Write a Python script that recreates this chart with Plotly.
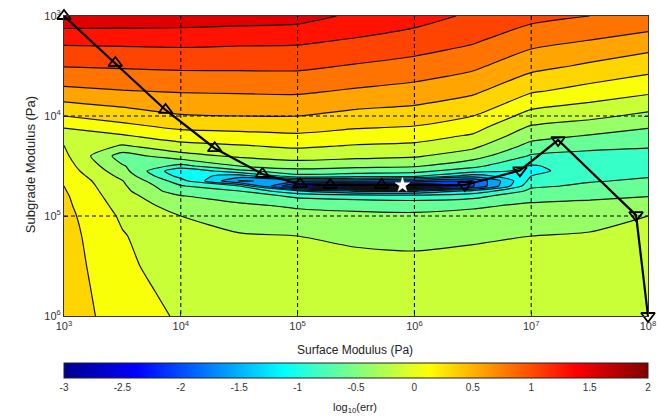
import numpy as np
import plotly.graph_objects as go

# ---- data ----
log_es = [3.0, 3.5, 4.0, 4.5, 5.0, 5.5, 6.0, 6.5, 7.0, 7.5, 8.0]          # log10 surface modulus (Pa)
log_eb = [3.0, 3.25, 3.5, 3.75, 4.0, 4.1, 4.2, 4.3, 4.4, 4.5, 4.55, 4.6,
          4.65, 4.7, 4.75, 4.8, 4.9, 5.0, 5.2, 5.5, 5.75, 6.0]              # log10 subgrade modulus (Pa)

# log10(err), one list per surface-modulus column (values down the subgrade axis)
err_es3_0 = [1.70, 1.30, 1.01, 0.69, 0.25, 0.04, -0.15, 0.01, 0.06, 0.12, 0.15, 0.19, 0.22, 0.25, 0.27, 0.29, 0.31, 0.33, 0.35, 0.37, 0.38, 0.39]
err_es3_5 = [1.68, 1.31, 1.03, 0.74, 0.37, 0.19, -0.03, -0.28, -0.62, -0.48, -0.40, -0.32, -0.24, -0.21, -0.18, -0.15, -0.09, -0.04, 0.02, 0.06, 0.10, 0.13]
err_es4_0 = [1.66, 1.32, 1.05, 0.77, 0.48, 0.32, 0.13, -0.09, -0.34, -0.83, -1.23, -1.10, -0.89, -0.73, -0.65, -0.49, -0.36, -0.25, -0.20, -0.14, -0.08, -0.03]
err_es4_5 = [1.63, 1.30, 1.05, 0.78, 0.50, 0.34, 0.17, -0.02, -0.21, -0.50, -0.83, -1.38, -1.77, -1.00, -0.75, -0.61, -0.45, -0.36, -0.23, -0.17, -0.12, -0.07]
err_es5_0 = [1.60, 1.29, 1.05, 0.79, 0.50, 0.36, 0.21, 0.04, -0.14, -0.39, -0.58, -0.83, -1.69, -2.37, -1.23, -0.80, -0.53, -0.42, -0.25, -0.19, -0.15, -0.10]
err_es5_5 = [1.45, 1.22, 0.98, 0.72, 0.42, 0.29, 0.14, -0.02, -0.18, -0.44, -0.63, -0.88, -1.71, -2.90, -1.54, -0.85, -0.57, -0.44, -0.28, -0.20, -0.16, -0.11]
err_es6_0 = [1.35, 1.14, 0.91, 0.66, 0.38, 0.25, 0.10, -0.05, -0.22, -0.47, -0.67, -0.94, -1.84, -2.90, -1.54, -0.88, -0.59, -0.45, -0.29, -0.21, -0.16, -0.12]
err_es6_5 = [1.21, 1.03, 0.80, 0.55, 0.25, 0.11, -0.03, -0.19, -0.39, -0.68, -0.90, -1.38, -2.02, -2.05, -1.18, -0.83, -0.53, -0.43, -0.27, -0.20, -0.16, -0.12]
err_es7_0 = [1.08, 0.83, 0.58, 0.28, -0.10, -0.26, -0.41, -0.58, -0.78, -1.02, -1.06, -1.00, -0.92, -0.80, -0.69, -0.58, -0.46, -0.38, -0.25, -0.20, -0.16, -0.12]
err_es7_5 = [1.00, 0.74, 0.46, 0.16, -0.19, -0.35, -0.52, -0.68, -0.83, -0.90, -0.88, -0.83, -0.77, -0.70, -0.62, -0.55, -0.43, -0.33, -0.23, -0.20, -0.16, -0.13]
err_es8_0 = [0.95, 0.63, 0.35, 0.05, -0.31, -0.47, -0.60, -0.73, -0.82, -0.85, -0.81, -0.77, -0.71, -0.65, -0.58, -0.51, -0.36, -0.25, -0.23, -0.19, -0.17, -0.14]

# search paths (Pa)
es_up = [1.0e3, 2.75e3, 7.4e3, 1.95e4, 5.0e4, 1.05e5, 1.9e5, 5.25e5]
eb_up = [1.0e3, 2.95e3, 8.7e3, 2.1e4, 3.8e4, 4.8e4, 4.9e4, 4.9e4]
es_dn = [1.0e8, 7.9e7, 1.7e7, 8.0e6, 2.7e6]
eb_dn = [1.0e6, 9.8e4, 1.74e4, 3.5e4, 4.9e4]
es_star = [7.9e5]
eb_star = [4.9e4]

x_ticks = [3, 4, 5, 6, 7, 8]
y_ticks = [3, 4, 5, 6]
cb_ticks = [-3, -2.5, -2, -1.5, -1, -0.5, 0, 0.5, 1, 1.5, 2]
cb_ticktext = ["-3", "-2.5", "-2", "-1.5", "-1", "-0.5", "0", "0.5", "1", "1.5", "2"]

# ---- figure ----
z = np.array([err_es3_0, err_es3_5, err_es4_0, err_es4_5, err_es5_0, err_es5_5,
              err_es6_0, err_es6_5, err_es7_0, err_es7_5, err_es8_0]).T

JET = [[0.0, 'rgb(0,0,143)'], [0.125, 'rgb(0,0,255)'], [0.375, 'rgb(0,255,255)'],
       [0.625, 'rgb(255,255,0)'], [0.875, 'rgb(255,0,0)'], [1.0, 'rgb(128,0,0)']]

FONT = "Liberation Sans, Arial, sans-serif"
fig = go.Figure()
fig.add_trace(go.Contour(
    x=log_es, y=log_eb, z=z, colorscale=JET, showscale=False, autocontour=False,
    contours=dict(start=-3, end=2, size=0.25, coloring='fill'),
    line=dict(color='#111', width=1.2, smoothing=0.6), hoverinfo='skip'))

up_x = np.log10(es_up + es_star)
up_y = np.log10(eb_up + eb_star)
dn_x = np.log10(es_dn + es_star)
dn_y = np.log10(eb_dn + eb_star)
fig.add_trace(go.Scatter(x=up_x, y=up_y, mode='lines', line=dict(color='black', width=2.2),
                         cliponaxis=False, hoverinfo='skip'))
fig.add_trace(go.Scatter(x=dn_x, y=dn_y, mode='lines', line=dict(color='black', width=2.2),
                         cliponaxis=False, hoverinfo='skip'))
fig.add_trace(go.Scatter(x=np.log10(es_up), y=np.log10(eb_up), mode='markers', cliponaxis=False,
                         marker=dict(symbol='triangle-up-open', size=12, color='black',
                                     line=dict(width=1.8, color='black')), hoverinfo='skip'))
fig.add_trace(go.Scatter(x=np.log10(es_dn), y=np.log10(eb_dn), mode='markers', cliponaxis=False,
                         marker=dict(symbol='triangle-down-open', size=12, color='black',
                                     line=dict(width=1.8, color='black')), hoverinfo='skip'))
fig.add_trace(go.Scatter(x=np.log10(es_star), y=np.log10(eb_star), mode='markers', cliponaxis=False,
                         marker=dict(symbol='star', size=11, color='white',
                                     line=dict(width=0.5, color='white')), hoverinfo='skip'))
# continuous colour bar
fig.add_trace(go.Scatter(
    x=[log_es[0]], y=[log_eb[0]], mode='markers', hoverinfo='skip',
    marker=dict(size=1, opacity=0, color=[0], colorscale=JET, cmin=-3, cmax=2, showscale=True,
                colorbar=dict(orientation='h', xref='paper', yref='paper', x=0.5, xanchor='center',
                              y=-0.157, yanchor='top', len=1, lenmode='fraction', thickness=15,
                              xpad=0, ypad=0, outlinewidth=1, outlinecolor='#222',
                              tickvals=cb_ticks, ticktext=cb_ticktext, ticks='',
                              tickfont=dict(family=FONT, size=10, color='#333')))))

shapes = []
for xv in x_ticks[1:-1]:
    shapes.append(dict(type='line', xref='x', yref='y', x0=xv, x1=xv, y0=3, y1=6,
                       line=dict(color='black', width=1, dash='4px,3px'), layer='above'))
for yv in y_ticks[1:-1]:
    shapes.append(dict(type='line', xref='x', yref='y', x0=3, x1=8, y0=yv, y1=yv,
                       line=dict(color='black', width=1, dash='4px,3px'), layer='above'))
for cv in [-2, -1, -0.5, 0.5, 1]:
    fx = (cv + 3) / 5
    shapes.append(dict(type='line', xref='paper', yref='paper', x0=fx, x1=fx, y0=-0.157, y1=-0.207,
                       line=dict(color='black', width=1, dash='4px,3px'), layer='above'))

ax_common = dict(showgrid=False, zeroline=False, showline=True, linecolor='#333', linewidth=1,
                 mirror='ticks', ticks='inside', ticklen=4, tickcolor='#333', automargin=False,
                 tickfont=dict(family=FONT, size=11, color='#333'))
fig.update_layout(
    width=657, height=416, margin=dict(l=64, r=9, t=16, b=100, autoexpand=False),
    paper_bgcolor='white', plot_bgcolor='white', showlegend=False, shapes=shapes,
    xaxis=dict(range=[3, 8], tickvals=x_ticks, ticktext=[f"10<sup>{t}</sup>" for t in x_ticks], **ax_common),
    yaxis=dict(range=[6, 3], tickvals=y_ticks, ticktext=[f"10<sup>{t}</sup>" for t in y_ticks], **ax_common),
    annotations=[
        dict(text="Surface Modulus (Pa)", xref='paper', yref='paper', x=0.498, y=-0.113,
             xanchor='center', yanchor='middle',
             showarrow=False, font=dict(family=FONT, size=12, color='#222')),
        dict(text="Subgrade Modulus (Pa)", xref='paper', yref='paper', x=-0.058, y=0.503,
             xanchor='center', yanchor='middle',
             textangle=-90, showarrow=False, font=dict(family=FONT, size=13, color='#222')),
        dict(text="log<sub>10</sub>(err)", xref='paper', yref='paper', x=0.498, y=-0.307,
             xanchor='center', yanchor='middle',
             showarrow=False, font=dict(family=FONT, size=11, color='#222')),
    ])

fig.write_html("out.html")
